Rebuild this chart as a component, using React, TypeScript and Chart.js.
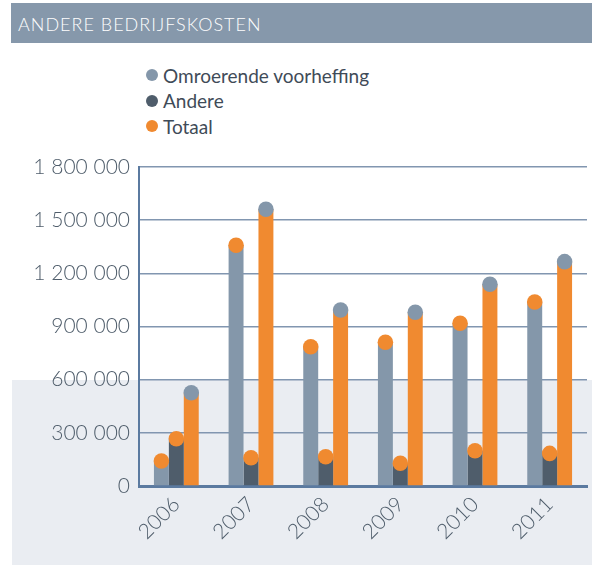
import React, { useEffect, useRef } from "react";
import { Chart, registerables } from "chart.js";

Chart.register(...registerables);

const years = ["2006", "2007", "2008", "2009", "2010", "2011"];
const omroerende = [141000, 1358000, 786000, 811000, 918000, 1038000];
const andere = [267000, 160000, 165000, 128000, 199000, 184000];
const totaal = [526000, 1561000, 993000, 980000, 1138000, 1266000];
const yTicks = [0, 300000, 600000, 900000, 1200000, 1500000, 1800000];

const GREY = "#8497aa";
const DARK = "#4f5d6b";
const ORANGE = "#f08a30";
const capColors = [ORANGE, ORANGE, GREY];

const legendItems = [
  { label: "Omroerende voorheffing", color: GREY },
  { label: "Andere", color: DARK },
  { label: "Totaal", color: ORANGE },
];

const fmt = (v: number) => {
  const s = Math.round(v).toString();
  return s.replace(/\B(?=(\d{3})+(?!\d))/g, " ");
};

const capPlugin = {
  id: "caps",
  afterDatasetsDraw(chart: any) {
    const ctx = chart.ctx;
    ctx.save();
    chart.data.datasets.forEach((_: any, di: number) => {
      const meta = chart.getDatasetMeta(di);
      meta.data.forEach((bar: any) => {
        const r = bar.width / 2 + 0.3;
        ctx.beginPath();
        ctx.arc(bar.x, bar.y, r, 0, Math.PI * 2);
        ctx.fillStyle = capColors[di];
        ctx.fill();
      });
    });
    ctx.restore();
  },
};

export default function App() {
  const ref = useRef<HTMLCanvasElement>(null);
  useEffect(() => {
    document.body.style.margin = "0";
    const chart = new Chart(ref.current!, {
      type: "bar",
      data: {
        labels: years,
        datasets: [
          { label: "Omroerende voorheffing", data: omroerende, backgroundColor: GREY },
          { label: "Andere", data: andere, backgroundColor: DARK },
          { label: "Totaal", data: totaal, backgroundColor: ORANGE },
        ],
      },
      options: {
        animation: false,
        responsive: false,
        maintainAspectRatio: false,
        layout: { padding: { top: 167, right: 5, left: 0, bottom: 0 } },
        datasets: { bar: { categoryPercentage: 0.6, barPercentage: 1 } },
        plugins: { legend: { display: false }, tooltip: { enabled: false } },
        scales: {
          x: {
            grid: { display: false, drawTicks: false },
            border: { color: "#5b7aa0", width: 3 },
            ticks: {
              minRotation: 45,
              maxRotation: 45,
              padding: 6,
              color: "#4f5d6b",
              font: { family: "Lato", size: 21, weight: "300" },
            },
            afterFit: (s: any) => {
              s.height = 565 - 486;
            },
          },
          y: {
            min: 0,
            max: 1800000,
            afterBuildTicks: (s: any) => {
              s.ticks = yTicks.map((v) => ({ value: v }));
            },
            grid: {
              color: (c: any) => (c.tick && c.tick.value === 0 ? "rgba(0,0,0,0)" : "#8196b0"),
              lineWidth: 1.5,
              drawTicks: false,
            },
            border: { color: "#5b7aa0", width: 2 },
            ticks: {
              padding: 9,
              color: "#4f5d6b",
              font: { family: "Lato", size: 21, weight: "300" },
              callback: (v: any) => fmt(Number(v)),
            },
            afterFit: (s: any) => {
              s.width = 139;
            },
          },
        },
      } as any,
      plugins: [capPlugin],
    });
    return () => chart.destroy();
  }, []);

  return (
    <div style={{ position: "relative", width: 592, height: 565, overflow: "hidden", fontFamily: "Lato" }}>
      <div
        style={{
          position: "absolute",
          left: 11,
          top: 3,
          width: 581,
          height: 40,
          background: "#8698ab",
          color: "#ffffff",
          fontSize: 18,
          fontWeight: 300,
          letterSpacing: 1,
          lineHeight: "42px",
          paddingLeft: 7,
          boxSizing: "border-box",
        }}
      >
        ANDERE BEDRIJFSKOSTEN
      </div>
      <div
        style={{
          position: "absolute",
          left: 12,
          top: 380,
          width: 580,
          height: 185,
          background: "#eaedf2",
        }}
      />
      {legendItems.map((it, i) => (
        <div
          key={it.label}
          style={{
            position: "absolute",
            left: 146,
            top: 63 + i * 25.5,
            height: 24,
            display: "flex",
            alignItems: "center",
            color: "#3f4b58",
            fontSize: 19,
          }}
        >
          <span
            style={{
              display: "inline-block",
              width: 12,
              height: 12,
              borderRadius: 6,
              background: it.color,
              marginRight: 5,
            }}
          />
          {it.label}
        </div>
      ))}
      <canvas ref={ref} width={592} height={565} style={{ position: "absolute", left: 0, top: 0 }} />
    </div>
  );
}
